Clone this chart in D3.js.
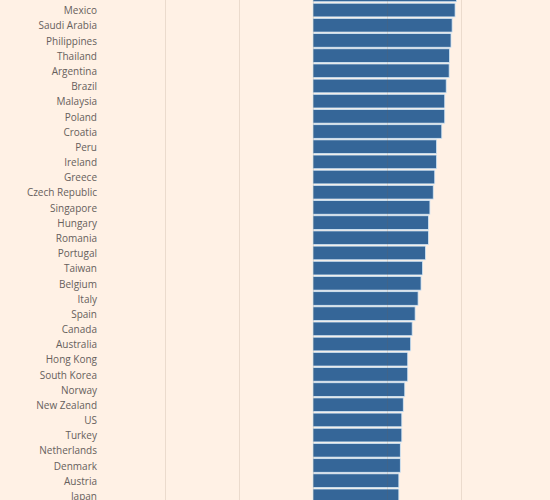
<!DOCTYPE html>
<html>
<head>
<meta charset="utf-8">
<script src="https://cdn.jsdelivr.net/npm/d3@7"></script>
<style>
  html, body { margin: 0; padding: 0; background: #fff1e5; }
  svg { display: block; }
  .label { font-family: "Open Sans", sans-serif; font-size: 10px; fill: #66605c; }
</style>
</head>
<body>
<div id="chart"></div>
<script>
const countries = [
  "India", "Mexico", "Saudi Arabia", "Philippines", "Thailand", "Argentina",
  "Brazil", "Malaysia", "Poland", "Croatia", "Peru", "Ireland", "Greece",
  "Czech Republic", "Singapore", "Hungary", "Romania", "Portugal", "Taiwan",
  "Belgium", "Italy", "Spain", "Canada", "Australia", "Hong Kong",
  "South Korea", "Norway", "New Zealand", "US", "Turkey", "Netherlands",
  "Denmark", "Austria", "Japan"
];
const values = [
  1.94, 1.92, 1.88, 1.865, 1.845, 1.84,
  1.80, 1.78, 1.78, 1.74, 1.67, 1.67, 1.645,
  1.625, 1.58, 1.56, 1.56, 1.52, 1.48,
  1.46, 1.42, 1.38, 1.34, 1.32, 1.28,
  1.28, 1.24, 1.22, 1.20, 1.20, 1.18,
  1.18, 1.16, 1.16
];
const gridTicks = [-2, -1, 0, 1, 2];

const width = 550;
const height = 500;

document.addEventListener("DOMContentLoaded", () => {
  initApp();
});

const initApp = () => {
  const svg = d3
    .select("#chart")
    .append("svg")
    .attr("width", width)
    .attr("height", height);

  svg
    .append("rect")
    .attr("width", width)
    .attr("height", height)
    .attr("fill", "#fff1e5");

  const xScale = d3.scaleLinear().domain([-2, 2]).range([165, 461]);

  // chart is cropped: first row sits partly above the top edge
  const step = 15.18;
  const yScale = d3
    .scaleBand()
    .domain(countries)
    .range([-12.7, -12.7 + step * countries.length])
    .paddingInner(0.1)
    .paddingOuter(0.05);

  svg
    .append("g")
    .selectAll("rect")
    .data(values)
    .enter()
    .append("rect")
    .attr("x", xScale(0))
    .attr("y", (d, i) => yScale(countries[i]))
    .attr("width", (d) => xScale(d) - xScale(0))
    .attr("height", yScale.bandwidth())
    .attr("fill", "#356698")
    .attr("stroke", "#d3e6f5")
    .attr("stroke-width", 0.8);

  const xAxis = d3
    .axisBottom(xScale)
    .tickValues(gridTicks)
    .tickSize(height)
    .tickFormat("");

  svg
    .append("g")
    .call(xAxis)
    .call((g) => g.select(".domain").remove())
    .call((g) =>
      g.selectAll(".tick line").attr("stroke", "#7a5c40").attr("stroke-opacity", 0.15)
    );

  svg
    .append("g")
    .selectAll("text")
    .data(countries)
    .enter()
    .append("text")
    .attr("class", "label")
    .attr("x", 97)
    .attr("y", (d) => yScale(d) + yScale.bandwidth() / 2)
    .attr("dy", "0.42em")
    .attr("text-anchor", "end")
    .text((d) => d);
};
</script>
</body>
</html>
